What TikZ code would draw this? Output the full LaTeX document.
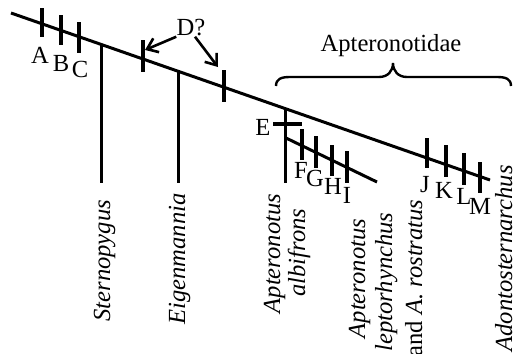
\documentclass[tikz,border=0pt]{standalone}
\usepackage{fontspec}
\setmainfont{Liberation Serif}
\usetikzlibrary{arrows.meta}
\begin{document}
\begin{tikzpicture}[x=0.5pt,y=-0.5pt,
  lbl/.style={font=\fontsize{12.3}{14}\selectfont, inner sep=0pt},
  taxon/.style={font=\fontsize{12.3}{14}\selectfont\itshape, inner sep=0pt, rotate=90},
  branch/.style={line width=1.5pt},
  tickmark/.style={line width=2pt},
  arr/.style={line width=1.3pt, -{Straight Barb[length=5pt,width=7.5pt]}},
  bracestyle/.style={line width=1.2pt}]
\useasboundingbox (0,0) rectangle (515,354);
% main line
\coordinate (m0) at (11,13);
\coordinate (m1) at (490,180);
\draw[branch] (m0) -- (m1);
\path (m0) -- coordinate[pos=0.1879] (jS) coordinate[pos=0.3507] (jE) coordinate[pos=0.5741] (jA) (m1);
\coordinate (bot) at (0,183);
\draw[branch] (jS) -- (jS |- bot);
\draw[branch] (jE) -- (jE |- bot);
\draw[branch] (jA) -- (jA |- bot);
% sub line
\coordinate (s0) at (286,138);
\coordinate (s1) at (377,182);
\draw[branch] (s0) -- (s1);
% E bar
\coordinate (e0) at (273,124);
\coordinate (e1) at (302,124);
\draw[tickmark] (e0) -- (e1);
% ticks on main line
\draw[tickmark] (42,8) -- (42,37);
\draw[tickmark] (61,15) -- (61,45);
\draw[tickmark] (79,22) -- (79,53);
\draw[tickmark] (143,40) -- (143,72);
\draw[tickmark] (224,70) -- (224,102);
\draw[tickmark] (427,138) -- (427,168);
\draw[tickmark] (446,145) -- (446,177);
\draw[tickmark] (464,153) -- (464,185);
\draw[tickmark] (480,162) -- (480,193);
% ticks on sub line
\draw[tickmark] (302,129) -- (302,160);
\draw[tickmark] (316,136) -- (316,168);
\draw[tickmark] (332,145) -- (332,176);
\draw[tickmark] (347,151) -- (347,183);
% letter labels
\node[lbl] (A) at (40,55) {A};
\node[lbl] (B) at (61,63) {B};
\node[lbl] (C) at (80,69) {C};
\node[lbl] (E) at (263,127) {E};
\node[lbl] (F) at (301,170) {F};
\node[lbl] (G) at (315,178) {G};
\node[lbl] (H) at (333,186) {H};
\node[lbl] (I) at (347,195) {I};
\node[lbl] (J) at (425,185) {J};
\node[lbl] (K) at (444,190) {K};
\node[lbl] (L) at (464,196) {L};
\node[lbl] (M) at (480,206) {M};
% D? with arrows
\node[lbl] (Dq) at (191,28) {D?};
\coordinate (d1) at (145,50);
\coordinate (d2) at (218,67);
\draw[arr] (Dq.south west) -- (d1);
\draw[arr] ([xshift=2pt]Dq.south) -- (d2);
% brace
\draw[bracestyle] (276,86) .. controls (276,79) and (281,77) .. (290,77) -- (379,77)
  .. controls (388,77) and (393,71) .. (393,63)
  .. controls (393,71) and (398,77) .. (407,77) -- (497,77)
  .. controls (506,77) and (511,79) .. (511,86);
\node[lbl] (apt) at (391,46) {Apteronotidae};
% taxa
\node[taxon, anchor=base west] (stern) at (110,322) {Sternopygus};
\node[taxon, anchor=base west] (eigen) at (185,325) {Eigenmannia};
\node[taxon, anchor=base] (alb1) at (280,253.5) {Apteronotus};
\node[taxon, anchor=base] (alb2) at (305,252.5) {albifrons};
\node[taxon, anchor=base] (lep1) at (365,278.5) {Apteronotus};
\node[taxon, anchor=base] (lep2) at (392,282) {leptorhynchus};
\node[taxon, anchor=base] (lep3) at (422,278) {\upshape and \itshape A. rostratus};
\node[taxon, anchor=base west] (adon) at (512,352) {Adontosternarchus};
\end{tikzpicture}
\end{document}
